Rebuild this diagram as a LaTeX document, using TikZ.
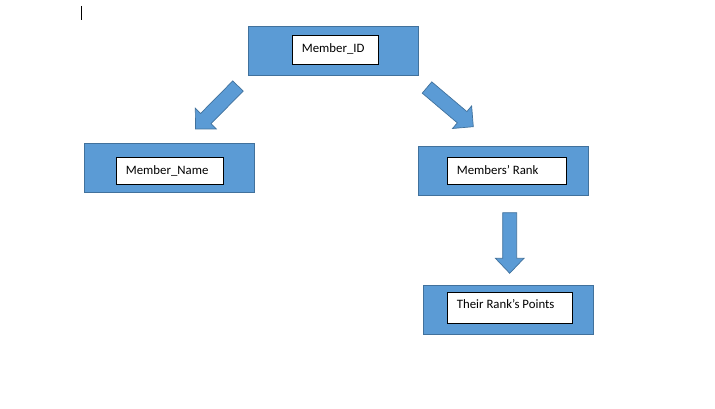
\documentclass[tikz,border=0pt]{standalone}
\usepackage{fontspec}
\setmainfont{Carlito}
\usetikzlibrary{calc}
\definecolor{boxblue}{HTML}{5B9BD5}
\definecolor{boxedge}{HTML}{41719C}
\tikzset{
  outerbox/.style={draw=boxedge, fill=boxblue, line width=0.9pt, inner sep=0pt, minimum width=170pt, minimum height=49pt},
  innerbox/.style={draw=black, fill=white, line width=0.8pt, inner sep=0pt},
  lbl/.style={anchor=base west, inner sep=0pt, font=\fontsize{12.8pt}{15pt}\selectfont},
  blockarrow/.style={draw=boxedge, fill=boxblue, line width=0.7pt, line join=miter}
}
\begin{document}
\begin{tikzpicture}[x=1pt,y=-1pt]
\useasboundingbox (0,0) rectangle (715,409);
% cursor
\coordinate (c1) at (81.7,6);
\coordinate (c2) at (81.7,20);
\draw[line width=1pt] (c1) -- (c2);
% boxes
\node[outerbox] (idO) at (333,50.5) {};
\node[innerbox, minimum width=86pt, minimum height=29pt] (idI) at (335,49.5) {};
\node[lbl] (idL) at (301.7,52.8) {Member\_ID};

\node[outerbox] (nameO) at (169.3,167.8) {};
\node[innerbox, minimum width=107pt, minimum height=27pt] (nameI) at (169.8,170.8) {};
\node[lbl] (nameL) at (125.7,174.6) {Member\_Name};

\node[outerbox] (rankO) at (503.3,170.5) {};
\node[innerbox, minimum width=119.4pt, minimum height=27pt] (rankI) at (507,170.8) {};
\node[lbl] (rankL) at (456.7,174.2) {Members’ Rank};

\node[outerbox, minimum height=48.6pt] (ptsO) at (508.3,310) {};
\node[innerbox, minimum width=125pt, minimum height=30.6pt] (ptsI) at (509.8,308) {};
\node[lbl] (ptsL) at (456.7,308.6) {Their Rank’s Points};

% block arrows
\coordinate (a1) at (238,86);
\coordinate (a1tip) at (195.5,129);
\coordinate (a2) at (427,87.5);
\coordinate (a2tip) at (473.3,126.7);
\coordinate (a3) at (509.7,212.7);
\coordinate (a3tip) at (509.7,273.3);
\foreach \t/\p/\w/\h/\l in {a1/a1tip/7.3pt/14.8pt/14.7pt, a2/a2tip/7.4pt/14.8pt/14.7pt, a3/a3tip/7pt/14.3pt/15pt}{
  \coordinate (\t-base) at ($(\p)!\l!(\t)$);
  \draw[blockarrow]
    ($(\t)!\w!-90:(\p)$) -- ($(\t-base)!\w!-90:(\p)$) -- ($(\t-base)!\h!-90:(\p)$) -- (\p)
    -- ($(\t-base)!\h!90:(\p)$) -- ($(\t-base)!\w!90:(\p)$) -- ($(\t)!\w!90:(\p)$) -- cycle;
}
\end{tikzpicture}
\end{document}
